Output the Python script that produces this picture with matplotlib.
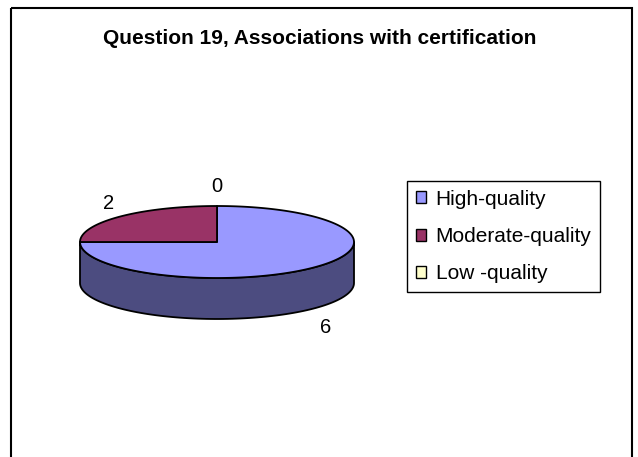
# 3D-looking pie: Question 19, associations with certification

import numpy as np
import matplotlib.pyplot as plt
from matplotlib.patches import Patch, Polygon, Rectangle

plt.rcParams['font.family'] = ['Liberation Sans', 'DejaVu Sans']

# data
categories = ['High-quality', 'Moderate-quality', 'Low -quality']
counts = [6, 2, 0]
top_colors = ['#9999FF', '#993366', '#FFFFCC']
side_colors = ['#4C4C80', '#4D1A33', '#808066']

# pie geometry (pixels)
cx, cy = 217, 242
rx, ry = 137, 36
depth = 41

fig = plt.figure(figsize=(6.38, 4.57), dpi=100)
ax = fig.add_axes([0, 0, 1, 1])
ax.set_xlim(0, 638)
ax.set_ylim(457, 0)
ax.axis('off')

# outer chart frame
ax.add_patch(Rectangle((11, 8), 621, 470, fill=False, edgecolor='black', lw=1.5))


def pt(t, dy=0):
    r = np.radians(t)
    return cx + rx * np.cos(r), cy - ry * np.sin(r) + dy


# slice angles, start at 12 o'clock going clockwise
total = sum(counts)
starts, ends = [], []
a = 90.0
for c in counts:
    starts.append(a)
    a -= 360.0 * c / total
    ends.append(a)

# side walls (only the front half is visible)
for i in range(len(counts)):
    for shift in (-360, 0, 360):
        lo = max(ends[i] + shift, -180)
        hi = min(starts[i] + shift, 0)
        if hi - lo <= 0:
            continue
        ts = np.linspace(lo, hi, 100)
        top = [pt(t) for t in ts]
        bot = [pt(t, depth) for t in ts[::-1]]
        ax.add_patch(Polygon(top + bot, closed=True, facecolor=side_colors[i],
                             edgecolor='black', lw=1.3, joinstyle='round'))

# top faces
for i in range(len(counts)):
    if counts[i] == 0:
        continue
    ts = np.linspace(starts[i], ends[i], 200)
    verts = [(cx, cy)] + [pt(t) for t in ts]
    ax.add_patch(Polygon(verts, closed=True, facecolor=top_colors[i],
                         edgecolor='black', lw=1.3, joinstyle='round'))

# value labels
for i in range(len(counts)):
    mid = np.radians((starts[i] + ends[i]) / 2)
    lx = cx + rx * 1.12 * np.cos(mid)
    ly = cy - ry * 1.62 * np.sin(mid) + 3
    if np.sin(mid) < -0.01:
        ly += depth
    ax.text(lx, ly, str(counts[i]), fontsize=14.5, ha='center', va='center')

ax.text(320, 38, 'Question 19, Associations with certification',
        fontsize=15, fontweight='bold', ha='center', va='center')

handles = [Patch(facecolor=top_colors[i], edgecolor='black', label=categories[i])
           for i in range(len(categories))]
leg = ax.legend(handles=handles, loc='upper left', bbox_to_anchor=(407, 181),
                bbox_transform=ax.transData, fontsize=15, frameon=True,
                fancybox=False, framealpha=1, edgecolor='black',
                handlelength=0.5, handleheight=0.5, handletextpad=0.45,
                labelspacing=0.88, borderpad=0.42, borderaxespad=0)
leg.get_frame().set_linewidth(1.0)

plt.savefig('out.png', dpi=100)
